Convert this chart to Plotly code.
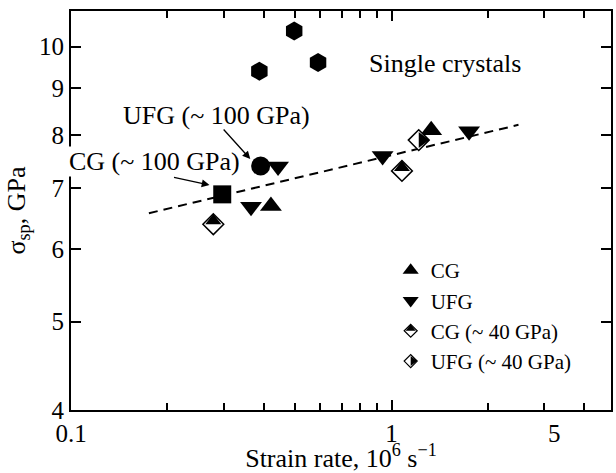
import math
import plotly.graph_objects as go

# ---- data ----
hex_x = [0.387, 0.497, 0.590]          # single crystals
hex_y = [9.40, 10.40, 9.61]
ufg100_x = [0.3905]                    # UFG (~100 GPa)
ufg100_y = [7.40]
cg100_x = [0.2964]                     # CG (~100 GPa)
cg100_y = [6.89]
cg_x = [0.4205, 1.33]                  # CG
cg_y = [6.69, 8.10]
ufg_x = [0.3645, 0.4426, 0.938, 1.746] # UFG
ufg_y = [6.68, 7.39, 7.59, 8.08]
cg40_x = [0.278, 1.078]                # CG (~40 GPa)
cg40_y = [6.39, 7.31]
ufg40_x = [1.216]                      # UFG (~40 GPa)
ufg40_y = [7.90]
trend_x = [0.175, 2.49]                # dashed fit line
trend_y = [6.57, 8.21]

y_ticks = [4, 5, 6, 7, 8, 9, 10]
x_major = [0.1, 1]
x_major_text = ["0.1", "1"]
x_minor = [0.2, 0.3, 0.4, 0.5, 0.6, 0.7, 0.8, 0.9, 2, 3, 4]

FONT = "Liberation Serif"
FS = 25      # tick labels
AFS = 26     # annotations / titles
LFS = 21     # legend
DIA = 16                 # diamond marker size in the plot
LDIA = 10                # diamond marker size in the legend
TRI = 19
LTRI = 14


def half(size):
    # triangle marker whose height (1.5 r) equals the diamond half-diagonal (0.65*size)
    r = 0.65 * size / 1.5
    return round(2 * r, 2), round(r / 2, 2)


fig = go.Figure()
fig.add_trace(go.Scatter(x=trend_x, y=trend_y, mode="lines",
                         line=dict(color="black", width=2, dash="9px,6px"),
                         showlegend=False, hoverinfo="skip"))
fig.add_trace(go.Scatter(x=hex_x, y=hex_y, mode="markers", showlegend=False,
                         name="Single crystals",
                         marker=dict(symbol="hexagon", size=19, color="black")))
fig.add_trace(go.Scatter(x=ufg100_x, y=ufg100_y, mode="markers", showlegend=False,
                         name="UFG (~100 GPa)",
                         marker=dict(symbol="circle", size=19, color="black")))
fig.add_trace(go.Scatter(x=cg100_x, y=cg100_y, mode="markers", showlegend=False,
                         name="CG (~100 GPa)",
                         marker=dict(symbol="square", size=18, color="black")))
fig.add_trace(go.Scatter(x=cg_x, y=cg_y, mode="markers", name="CG", showlegend=False,
                         marker=dict(symbol="triangle-up", size=TRI, color="black")))
fig.add_trace(go.Scatter(x=ufg_x, y=ufg_y, mode="markers", name="UFG", showlegend=False,
                         marker=dict(symbol="triangle-down", size=TRI, color="black")))
fig.add_trace(go.Scatter(x=cg40_x, y=cg40_y, mode="markers", name="CG (~40 GPa)",
                         showlegend=False,
                         marker=dict(symbol="diamond", size=DIA, color="white",
                                     line=dict(color="black", width=1.5))))
fig.add_trace(go.Scatter(x=ufg40_x, y=ufg40_y, mode="markers", name="UFG (~40 GPa)",
                         showlegend=False,
                         marker=dict(symbol="diamond", size=DIA, color="white",
                                     line=dict(color="black", width=1.5))))
hs, so = half(DIA)
# black halves of the diamonds (top half for CG, right half for UFG)
fig.add_trace(go.Scatter(x=cg40_x, y=cg40_y, mode="markers", showlegend=False,
                         marker=dict(symbol="triangle-down", size=hs, angle=180, standoff=so,
                                     color="black", line=dict(width=0))))
fig.add_trace(go.Scatter(x=ufg40_x, y=ufg40_y, mode="markers", showlegend=False,
                         marker=dict(symbol="triangle-down", size=hs, angle=-90, standoff=so,
                                     color="black", line=dict(width=0))))

# ---- legend keys ----
fig.add_trace(go.Scatter(x=[None], y=[None], mode="markers", name="CG",
                         marker=dict(symbol="triangle-up", size=LTRI, color="black")))
fig.add_trace(go.Scatter(x=[None], y=[None], mode="markers", name="UFG",
                         marker=dict(symbol="triangle-down", size=LTRI, color="black")))
fig.add_trace(go.Scatter(x=[None], y=[None], mode="markers", name="CG (~ 40 GPa)",
                         marker=dict(symbol="diamond", size=LDIA, color="white",
                                     line=dict(color="black", width=1.2))))
fig.add_trace(go.Scatter(x=[None], y=[None], mode="markers", name="UFG (~ 40 GPa)",
                         marker=dict(symbol="diamond", size=LDIA, color="white",
                                     line=dict(color="black", width=1.2))))
lhs, lso = half(LDIA)
# legend draws the standoff reversed, hence triangle-up here
fig.add_trace(go.Scatter(x=[None], y=[None], mode="markers", name=" ", legend="legend2",
                         marker=dict(symbol="triangle-up", size=lhs, angle=0, standoff=lso,
                                     color="black", line=dict(width=0))))
fig.add_trace(go.Scatter(x=[None], y=[None], mode="markers", name="  ", legend="legend2",
                         marker=dict(symbol="triangle-up", size=lhs, angle=90, standoff=lso,
                                     color="black", line=dict(width=0))))

row_px = LFS * 1.3 + 3
plot_h = 473 - 11 - 63
leg_y = 0.401

axis_common = dict(showline=True, linewidth=2, linecolor="black", mirror="ticks",
                   ticks="inside", tickcolor="black", tickwidth=1.5, ticklen=10,
                   showgrid=False, zeroline=False,
                   tickfont=dict(family=FONT, size=FS, color="black"))

fig.update_layout(
    width=616, height=473,
    margin=dict(l=71, r=3, t=11, b=63),
    paper_bgcolor="white", plot_bgcolor="white",
    font=dict(family=FONT, size=FS, color="black"),
    xaxis=dict(type="log", range=[-1, math.log10(4.84)],
               tickvals=x_major, ticktext=x_major_text,
               minor=dict(tickvals=x_minor, ticks="inside", ticklen=7,
                          tickwidth=1.5, tickcolor="black"),
               title=dict(text="Strain rate, 10<sup>6</sup> s<sup>\u22121</sup>",
                          font=dict(family=FONT, size=AFS), standoff=3),
               **axis_common),
    yaxis=dict(type="log", range=[math.log10(4), math.log10(10.94)],
               tickvals=y_ticks, ticktext=[str(v) for v in y_ticks],
               title=dict(text="\u03c3<sub>sp</sub>, GPa",
                          font=dict(family=FONT, size=AFS), standoff=6),
               **axis_common),
    legend=dict(x=0.592, y=leg_y, xanchor="left", yanchor="top",
                bgcolor="rgba(0,0,0,0)", borderwidth=0,
                font=dict(family=FONT, size=LFS, color="black"),
                tracegroupgap=0),
    legend2=dict(x=0.592, y=leg_y - 2 * row_px / plot_h, xanchor="left", yanchor="top",
                 bgcolor="rgba(0,0,0,0)", borderwidth=0,
                 font=dict(family=FONT, size=LFS, color="black"),
                 tracegroupgap=0),
    annotations=[
        dict(text="Single crystals", xref="paper", yref="paper", x=0.693, y=0.869,
             xanchor="center", yanchor="middle",
             showarrow=False, font=dict(family=FONT, size=AFS)),
        dict(text="UFG (~ 100 GPa)", xref="paper", yref="paper", x=0.269, y=0.739,
             xanchor="center", yanchor="middle",
             showarrow=False, font=dict(family=FONT, size=AFS)),
        dict(text="CG (~ 100 GPa)", xref="paper", yref="paper", x=0.155, y=0.622,
             xanchor="center", yanchor="middle",
             showarrow=False, bgcolor="white", borderpad=0, font=dict(family=FONT, size=AFS)),
        dict(text="", xref="paper", yref="paper", x=0.332, y=0.629, ax=-28, ay=-31,
             showarrow=True, arrowhead=2, arrowsize=1.2, arrowwidth=1.3, arrowcolor="black"),
        dict(text="", xref="paper", yref="paper", x=0.2565, y=0.564, ax=-37, ay=-8,
             showarrow=True, arrowhead=2, arrowsize=1.2, arrowwidth=1.3, arrowcolor="black"),
        dict(text="5", xref="paper", yref="paper", x=0.895, y=0, xanchor="center",
             yanchor="top", yshift=-8,
             showarrow=False, font=dict(family=FONT, size=FS)),
    ],
)

fig.write_html("out.html", config={"displayModeBar": False},
               post_script="document.body.style.margin='0px';"
                           "document.documentElement.style.overflow='hidden';")
